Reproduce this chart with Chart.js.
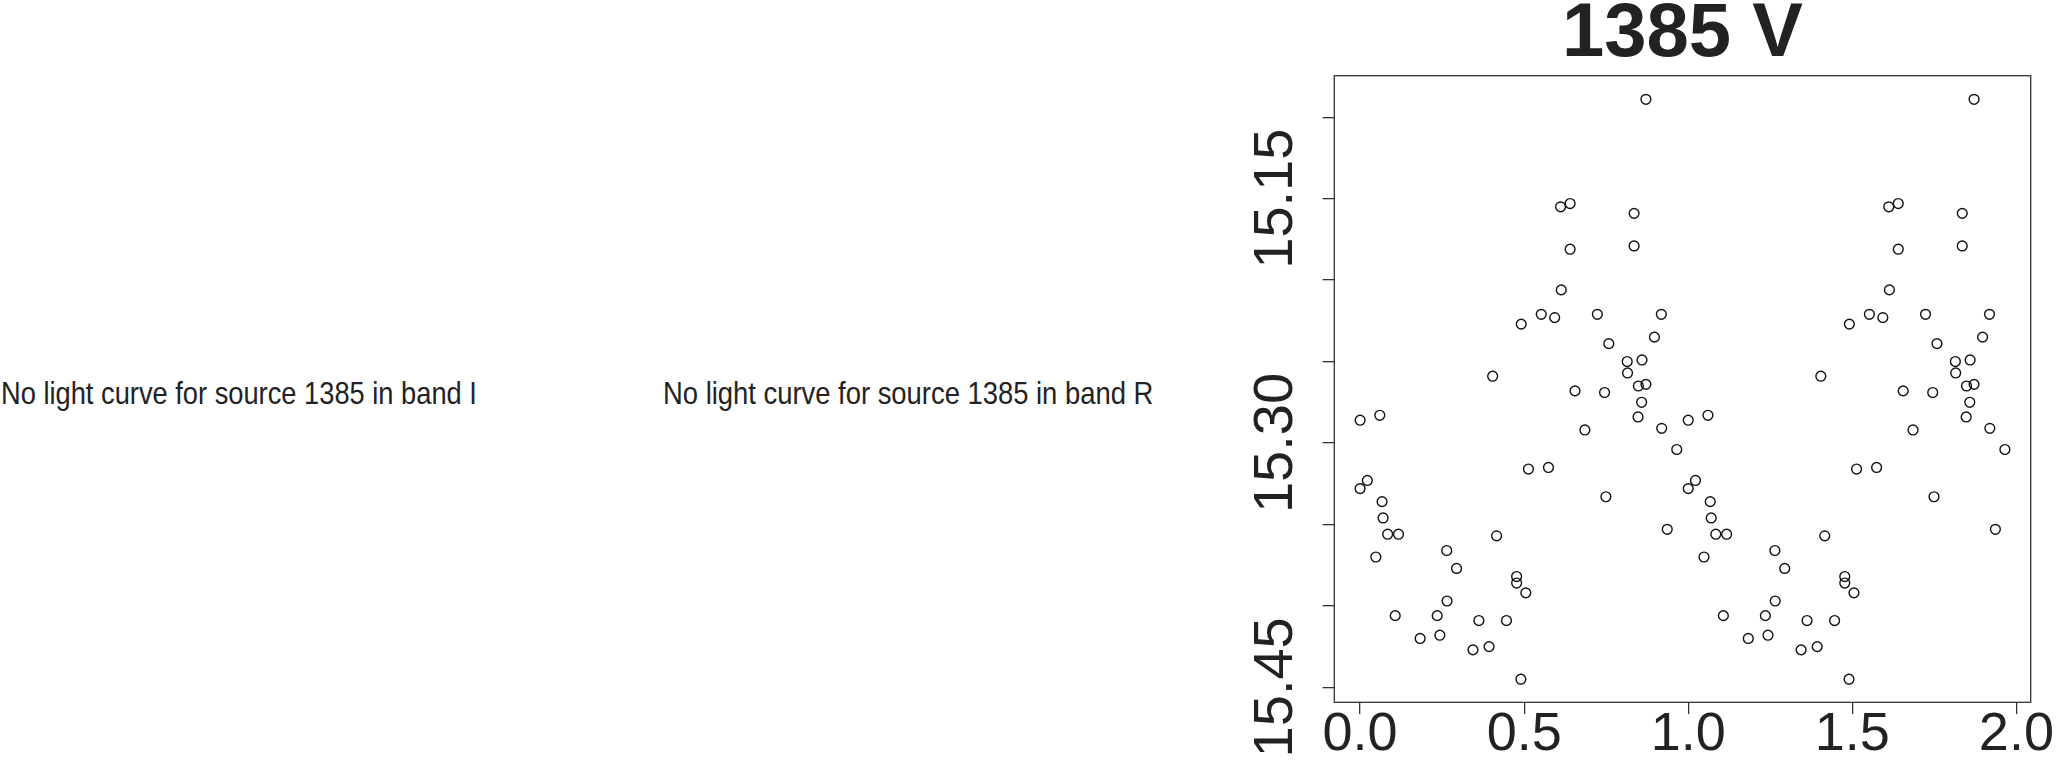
<!DOCTYPE html>
<html>
<head>
<meta charset="utf-8">
<script src="https://cdn.jsdelivr.net/npm/chart.js@4/dist/chart.umd.min.js"></script>
<style>
  body { margin: 0; background: #fff; }
  #wrap { position: relative; width: 2057px; height: 760px; overflow: hidden; }
  canvas { position: absolute; left: 0; top: 0; }
  .msg {
    position: absolute; top: 377px; margin: 0;
    font-family: "Liberation Sans", Arial, sans-serif; font-size: 32px; line-height: 32px;
    color: #222; white-space: nowrap; transform-origin: 0 0;
  }
</style>
</head>
<body>
<div id="wrap">
  <p class="msg" style="left:1px; transform: scaleX(0.852);">No light curve for source 1385 in band I</p>
  <p class="msg" style="left:663px; transform: scaleX(0.856);">No light curve for source 1385 in band R</p>
  <canvas id="lc" width="2057" height="760"></canvas>
</div>
<script>
// V band light curve of source 1385, phase folded (plotted twice, phase and phase+1)
const phase = [
  0.000, 0.000, 0.022, 0.048, 0.060, 0.067, 0.070, 0.084, 0.107, 0.117,
  0.183, 0.235, 0.243, 0.264, 0.265, 0.294, 0.344, 0.362, 0.393, 0.404,
  0.416, 0.446, 0.477, 0.477, 0.490, 0.491, 0.505, 0.513, 0.552, 0.574,
  0.593, 0.611, 0.613, 0.640, 0.640, 0.655, 0.685, 0.723, 0.745, 0.749,
  0.758, 0.814, 0.815, 0.835, 0.835, 0.847, 0.848, 0.858, 0.859, 0.871,
  0.871, 0.897, 0.918, 0.919, 0.936, 0.965
];
const mag = [
  15.286, 15.328, 15.323, 15.370, 15.283, 15.336, 15.346, 15.356, 15.406, 15.356,
  15.420, 15.406, 15.418, 15.366, 15.397, 15.377, 15.427, 15.409, 15.425, 15.259,
  15.357, 15.409, 15.382, 15.386, 15.445, 15.227, 15.392, 15.316, 15.221, 15.315,
  15.223, 15.155, 15.206, 15.153, 15.181, 15.268, 15.292, 15.221, 15.269, 15.333,
  15.239, 15.250, 15.257, 15.159, 15.179, 15.284, 15.265, 15.275, 15.249, 15.089,
  15.264, 15.235, 15.221, 15.291, 15.353, 15.304
];
const xTicks = [0, 0.5, 1, 1.5, 2];
const yTicks = [15.10, 15.15, 15.20, 15.25, 15.30, 15.35, 15.40, 15.45];
const yLabels = ['15.15', '15.30', '15.45'];
const title = '1385 V';

const pts = [];
phase.forEach((p, i) => pts.push({ x: p, y: mag[i] }));
phase.forEach((p, i) => pts.push({ x: p + 1, y: mag[i] }));

const boxPlugin = {
  id: 'box',
  afterDraw(chart) {
    const a = chart.chartArea, ctx = chart.ctx;
    ctx.save();
    ctx.strokeStyle = '#333';
    ctx.lineWidth = 1.3;
    ctx.strokeRect(a.left, a.top, a.right - a.left, a.bottom - a.top);
    ctx.restore();
  }
};

new Chart(document.getElementById('lc'), {
  type: 'scatter',
  data: {
    datasets: [{
      data: pts,
      pointStyle: 'circle',
      pointRadius: 4.9,
      pointBorderWidth: 1.4,
      pointBorderColor: '#111',
      pointBackgroundColor: 'rgba(0,0,0,0)'
    }]
  },
  options: {
    responsive: false,
    animation: false,
    layout: { padding: { left: 1234.3, right: 26.3, top: 0, bottom: 0 } },
    plugins: {
      legend: { display: false },
      tooltip: { enabled: false },
      title: {
        display: true,
        text: title,
        fullSize: false,
        color: '#222',
        font: { family: 'Liberation Sans', size: 76, weight: 'bold', lineHeight: 0.816 },
        padding: { top: 4, bottom: 9.7 }
      }
    },
    scales: {
      x: {
        type: 'linear',
        min: -0.0786,
        max: 2.0436,
        afterBuildTicks: s => { s.ticks = xTicks.map(v => ({ value: v })); },
        afterFit: s => { s.height = 57.7; },
        border: { display: false },
        grid: { drawOnChartArea: false, drawTicks: true, tickLength: 11.7, color: '#333', lineWidth: 1.3 },
        ticks: {
          color: '#222',
          font: { family: 'Liberation Sans', size: 54 },
          padding: -11.4,
          maxRotation: 0,
          autoSkip: false,
          callback: v => v.toFixed(1)
        }
      },
      y: {
        type: 'linear',
        reverse: true,
        min: 15.0745,
        max: 15.4592,
        afterBuildTicks: s => { s.ticks = yTicks.map(v => ({ value: v })); },
        afterFit: s => { s.width = 100; },
        border: { display: false },
        grid: { drawOnChartArea: false, drawTicks: true, tickLength: 11.7, color: '#333', lineWidth: 1.3 },
        ticks: {
          color: '#222',
          font: { family: 'Liberation Sans', size: 56 },
          minRotation: 90,
          maxRotation: 90,
          crossAlign: 'center',
          padding: -24,
          autoSkip: false,
          callback: v => {
            const t = v.toFixed(2);
            return yLabels.includes(t) ? t : '';
          }
        }
      }
    }
  },
  plugins: [boxPlugin]
});
</script>
</body>
</html>
